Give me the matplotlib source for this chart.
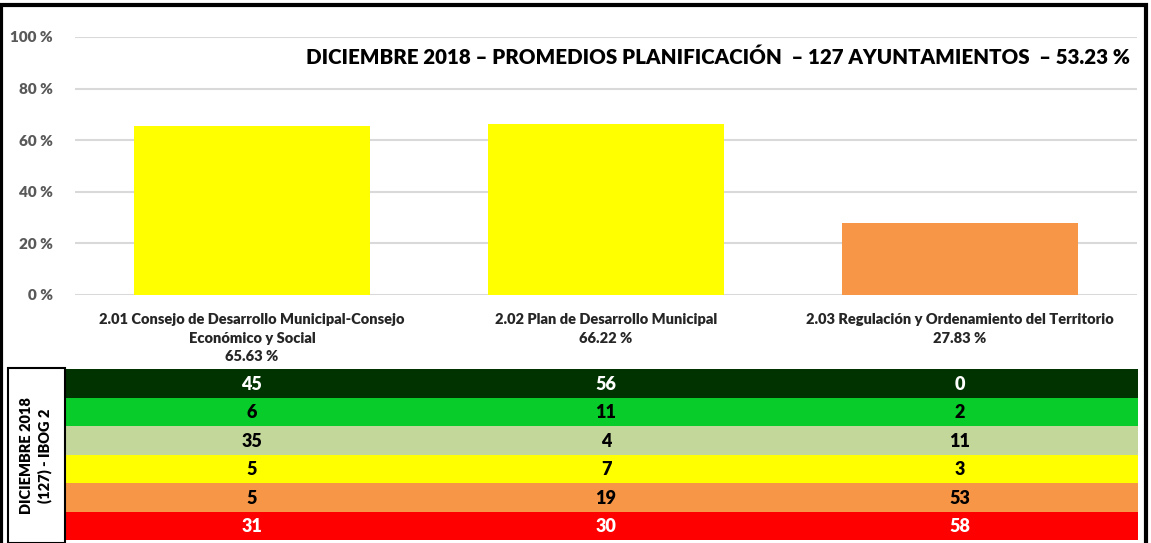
import numpy as np
import matplotlib.pyplot as plt
from matplotlib.patches import Rectangle

plt.rcParams['font.family'] = ['Lato', 'DejaVu Sans']

categories = ["2.01 Consejo de Desarrollo Municipal-Consejo\nEconómico y Social",
              "2.02 Plan de Desarrollo Municipal",
              "2.03 Regulación y Ordenamiento del Territorio"]
values = [65.63, 66.22, 27.83]
bar_colors = ["#FFFF00", "#FFFF00", "#F79646"]
yticks = [0, 20, 40, 60, 80, 100]
title = "DICIEMBRE 2018 – PROMEDIOS PLANIFICACIÓN  – 127 AYUNTAMIENTOS  – 53.23 %"

row_colors = ["#003300", "#07CC2A", "#C4D79B", "#FFFF00", "#F79646", "#FF0000"]
row_text = ["white", "black", "black", "black", "black", "white"]
table = [[45, 56, 0],
         [6, 11, 2],
         [35, 4, 11],
         [5, 7, 3],
         [5, 19, 53],
         [31, 30, 58]]
side_label = "DICIEMBRE 2018\n(127) - IBOG 2"

W, H = 1151, 543
fig = plt.figure(figsize=(W / 100, H / 100), dpi=100)


def box(x0, y0, x1, y1):
    # pixel box (top-left origin) -> figure fraction
    return [x0 / W, 1 - y1 / H, (x1 - x0) / W, (y1 - y0) / H]


# main bar chart
ax = fig.add_axes(box(75, 37, 1137, 295))
x = np.arange(len(values))
ax.bar(x, values, width=0.667, color=bar_colors, zorder=3)
ax.set_xlim(-0.5, 2.5)
ax.set_ylim(0, 100)
ax.set_yticks(yticks)
ax.set_yticklabels([f"{t} %" for t in yticks], fontsize=11, fontweight='heavy', color='#595959')
ax.yaxis.grid(True, color='#D9D9D9', lw=1.5, zorder=0)
ax.tick_params(length=0, pad=16)
ax.set_xticks(x)
ax.set_xticklabels([f"{c}\n{v:.2f} %" for c, v in zip(categories, values)],
                   fontsize=10.5, fontweight='heavy', color='#262626', va='top', linespacing=1.5)
ax.tick_params(axis='x', pad=13)
for s in ax.spines.values():
    s.set_visible(False)

fig.text(1130 / W, 1 - 57 / H, title, ha='right', va='center',
         fontsize=14.8, fontweight='heavy', color='black')

# table of counts
tx0, tx1 = 65, 1138
px_per_unit = (1137 - 75) / 3
tax = fig.add_axes(box(tx0, 369, tx1, 540))
xmin = -0.5 - (75 - tx0) / px_per_unit
xmax = 2.5 + (tx1 - 1137) / px_per_unit
tax.set_xlim(xmin, xmax)
tax.set_ylim(len(table) - 0.5, -0.5)
rows = np.arange(len(table))
tax.barh(rows, xmax - xmin, left=xmin, height=1.0, color=row_colors)
for i, row in enumerate(table):
    for j, v in enumerate(row):
        tax.text(j, i + 0.03, str(v), ha='center', va='center', fontsize=13,
                 fontweight='heavy', color=row_text[i])
tax.axis('off')

# side label box
fig.patches.append(Rectangle((8 / W, 0), 57 / W, 1 - 368 / H, transform=fig.transFigure,
                             fill=False, edgecolor='black', lw=1.5))
fig.text(36 / W, 1 - 456 / H, side_label, rotation=90, ha='center', va='center',
         fontsize=10.5, fontweight='heavy', color='black', linespacing=1.3)

# outer frame
fig.patches.append(Rectangle((1 / W, -0.01), 1145 / W, 1 - 5 / H + 0.01, transform=fig.transFigure,
                             fill=False, edgecolor='black', lw=3))

fig.savefig("out.png", dpi=100)
